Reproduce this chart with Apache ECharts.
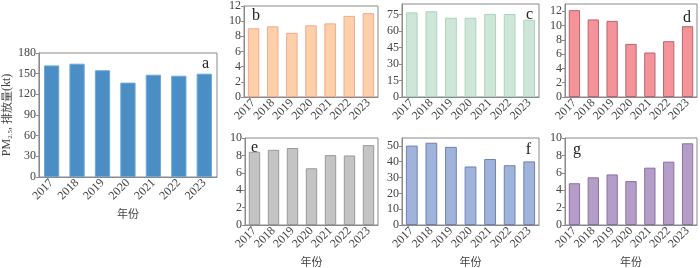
<!DOCTYPE html>
<html><head><meta charset="utf-8">
<script src="https://cdn.jsdelivr.net/npm/echarts@6/dist/echarts.min.js"></script>
<style>html,body{margin:0;padding:0;background:#fff}#c{width:700px;height:268px}</style>
</head><body><div id="c"></div>
<script>
var years = ['2017','2018','2019','2020','2021','2022','2023'];
var valuesA = [162, 164.5, 155, 137, 148.5, 147, 150];
var valuesB = [9.06, 9.32, 8.46, 9.45, 9.71, 10.7, 11.05];
var valuesC = [76.8, 77.8, 71.9, 71.9, 75.5, 75.3, 70.1];
var valuesD = [12.14, 10.84, 10.64, 7.42, 6.22, 7.8, 9.9];
var valuesE = [8.42, 8.64, 8.85, 6.52, 8.03, 7.99, 9.18];
var valuesF = [50.2, 52.0, 49.4, 37.0, 41.7, 37.8, 40.2];
var valuesG = [4.8, 5.48, 5.81, 5.05, 6.59, 7.28, 9.39];
var panelLabels = ['a','b','c','d','e','f','g'];
var yMax = [180, 12, 84.4, 13, 10, 55, 10];
var yStep = [30, 2, 15, 2, 2, 10, 2];
var xTitle = '年份';

var series = [valuesA, valuesB, valuesC, valuesD, valuesE, valuesF, valuesG];
var grids = [
  {left:34, top:53, width:183, height:124},
  {left:244, top:4, width:134, height:93},
  {left:402, top:4, width:137, height:93},
  {left:565, top:4, width:132, height:93},
  {left:245, top:138, width:133, height:93},
  {left:402, top:138, width:137, height:93},
  {left:565, top:138, width:132, height:93}
];
var fills = ['#4b8ec5','#fdd0aa','#cde6d8','#f4949a','#c4c4c4','#9fb3db','#b49ec8'];
var edges = ['#6aa8da','#f2a98a','#a9d4bb','#b9646c','#999999','#6f80b3','#8b71a2'];
var labelPos = [
  {x:'right', dx:-8, dy:3},{x:'left', dx:8, dy:4},{x:'right', dx:-6, dy:3},{x:'right', dx:-6, dy:6},
  {x:'left', dx:6, dy:2},{x:'right', dx:-8, dy:4},{x:'left', dx:8, dy:4}
];
var showXName = [true,false,false,false,true,true,true];
var font = 'Liberation Serif';
var cjk = 'Noto Sans CJK SC';
var txt = '#444';

var opt = {animation:false, backgroundColor:'#fff', textStyle:{fontFamily:font}, grid:[], xAxis:[], yAxis:[], series:[], graphic:[]};
grids.forEach(function(g,i){
  opt.grid.push({left:g.left, top:g.top, width:g.width, height:g.height, show:true, borderColor:'#8a8a8a', borderWidth:1, backgroundColor:'transparent'});
  opt.xAxis.push({type:'category', gridIndex:i, data:years,
    axisLine:{lineStyle:{color:'#8a8a8a'}}, axisTick:{show:false},
    axisLabel:{rotate:45, interval:0, color:txt, fontFamily:font, fontSize:12, margin:4,
      formatter:'{v|{value}}', rich:{v:{fontFamily:font, fontSize:12, color:txt}}},
    name: showXName[i] ? xTitle : '', nameLocation:'middle', nameGap: 31,
    nameTextStyle:{color:txt, fontFamily:cjk, fontSize:11}
  });
  var y = {type:'value', gridIndex:i, min:0, max:yMax[i], interval:yStep[i],
    axisLine:{show:true, lineStyle:{color:'#8a8a8a'}}, axisTick:{show:true, length:3, lineStyle:{color:'#8a8a8a'}},
    splitLine:{show:false},
    axisLabel:{color:txt, fontFamily:font, fontSize:12, margin:3, showMaxLabel: (yMax[i] % yStep[i] === 0),
      formatter:'{v|{value}}', rich:{v:{fontFamily:font, fontSize:12, color:txt}}}
  };
  if(i===0){
    y.name = '{p|PM}{s|2.5}{p|, }{c|排放量}{p|(kt)}';
    y.nameLocation = 'middle'; y.nameGap = 21;
    y.nameTextStyle = {color:txt, fontSize:12,
      rich:{p:{fontFamily:font, fontSize:12, color:txt},
            c:{fontFamily:cjk, fontSize:11, color:txt},
            s:{fontSize:7, fontFamily:font, color:txt, padding:[7,0,0,0]}}};
  }
  opt.yAxis.push(y);
  opt.series.push({type:'bar', xAxisIndex:i, yAxisIndex:i, data:series[i], barCategoryGap:'40%',
    itemStyle:{color:fills[i], borderColor:edges[i], borderWidth:1}});
  var lp = labelPos[i];
  opt.graphic.push({type:'text',
    x: lp.x==='right' ? g.left + g.width + lp.dx : g.left + lp.dx,
    y: g.top + lp.dy,
    style:{text:panelLabels[i], fontFamily:font, fontSize:16, fill:'#222', align: lp.x==='right'?'right':'left', verticalAlign:'top'}});
});
var chart = echarts.init(document.getElementById('c'), null, {renderer:'canvas'});
chart.setOption(opt);
</script></body></html>
